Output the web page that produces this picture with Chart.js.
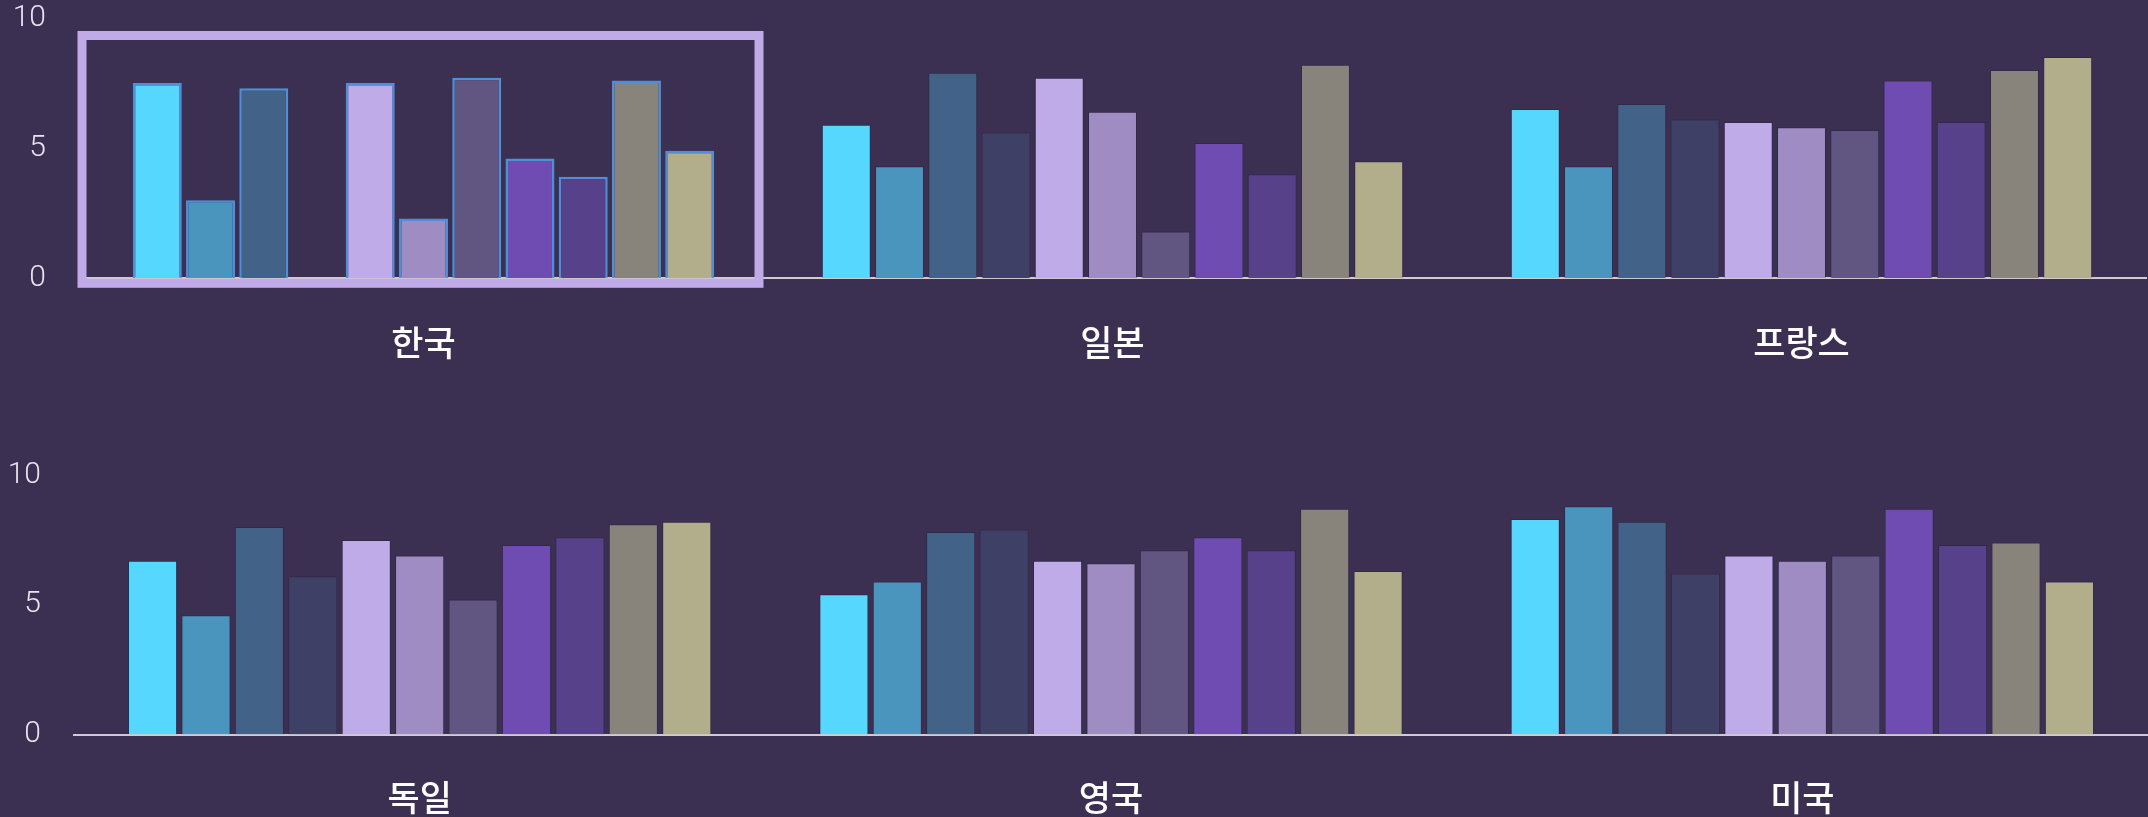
<!DOCTYPE html>
<html lang="ko">
<head>
    <meta charset="UTF-8">
    <title>국가별 지표</title>
    <script src="https://cdn.jsdelivr.net/npm/chart.js"></script>
    <style>
        html, body { margin: 0; padding: 0; background: #3b3052; overflow: hidden; }
        body { width: 2148px; height: 817px; position: relative; }
        .chartBox { position: absolute; left: 0; width: 2148px; }
        #topBox { top: 0; height: 380px; }
        #bottomBox { top: 457px; height: 360px; }
    </style>
</head>
<body>
    <div class="chartBox" id="topBox"><canvas id="topChart"></canvas></div>
    <div class="chartBox" id="bottomBox"><canvas id="bottomChart"></canvas></div>

    <script>
        // categories (first three on the top row, last three on the bottom row)
        const countries = ['한국', '일본', '프랑스', '독일', '영국', '미국'];
        const yTicks = [0, 5, 10];

        // one array per series, values in country order
        const series1 = [7.5, 5.9, 6.5, 6.7, 5.4, 8.3];
        const series2 = [3.0, 4.3, 4.3, 4.6, 5.9, 8.8];
        const series3 = [7.3, 7.9, 6.7, 8.0, 7.8, 8.2];
        const series4 = [null, 5.6, 6.1, 6.1, 7.9, 6.2];
        const series5 = [7.5, 7.7, 6.0, 7.5, 6.7, 6.9];
        const series6 = [2.3, 6.4, 5.8, 6.9, 6.6, 6.7];
        const series7 = [7.7, 1.8, 5.7, 5.2, 7.1, 6.9];
        const series8 = [4.6, 5.2, 7.6, 7.3, 7.6, 8.7];
        const series9 = [3.9, 4.0, 6.0, 7.6, 7.1, 7.3];
        const series10 = [7.6, 8.2, 8.0, 8.1, 8.7, 7.4];
        const series11 = [4.9, 4.5, 8.5, 8.2, 6.3, 5.9];

        const allSeries = [series1, series2, series3, series4, series5, series6,
                           series7, series8, series9, series10, series11];
        const colors = ['#56d7fe', '#4a95bd', '#426387', '#3e4066', '#bfabe8', '#9e8cc3',
                        '#615581', '#6e4cb2', '#57418b', '#89847b', '#b2ae8b'];

        const highlightIndex = 0; // 한국 is selected

        // draws the selection frame round the highlighted category
        const highlightPlugin = {
            id: 'highlightBox',
            afterDraw(chart, args, opts) {
                if (!opts.enabled) return;
                const area = chart.chartArea;
                const catWidth = (area.right - area.left) / chart.data.labels.length;
                const left = area.left + catWidth * highlightIndex + 3;
                const right = left + catWidth - 12;
                const top = area.top + 17.5;
                const bottom = area.bottom + 5;
                const ctx = chart.ctx;
                ctx.save();
                ctx.strokeStyle = '#c0aae8';
                ctx.lineWidth = 9;
                ctx.strokeRect(left, top, right - left, bottom - top);
                ctx.restore();
            }
        };

        function makeChart(canvasId, from, to, opts) {
            const labels = countries.slice(from, to);
            const datasets = allSeries.map(function (values, i) {
                return {
                    label: '계열 ' + (i + 1),
                    data: values.slice(from, to),
                    backgroundColor: colors[i],
                    borderColor: function (ctx) {
                        return (opts.highlight && ctx.dataIndex === highlightIndex) ? '#4f8fd8' : 'rgba(35,28,60,0.35)';
                    },
                    borderWidth: function (ctx) {
                        return (opts.highlight && ctx.dataIndex === highlightIndex) ? 2.5 : 1;
                    },
                    categoryPercentage: 0.85,
                    barPercentage: 0.92
                };
            });

            return new Chart(document.getElementById(canvasId), {
                type: 'bar',
                data: { labels: labels, datasets: datasets },
                plugins: [highlightPlugin],
                options: {
                    responsive: true,
                    maintainAspectRatio: false,
                    animation: false,
                    devicePixelRatio: 1,
                    layout: { padding: { top: 0, right: opts.padRight, bottom: 0, left: 0 } },
                    plugins: {
                        legend: { display: false },
                        tooltip: { enabled: false },
                        highlightBox: { enabled: opts.highlight }
                    },
                    scales: {
                        x: {
                            afterFit: function (scale) {
                                scale.height = opts.axisHeight;
                                scale.paddingLeft = 0;
                                scale.paddingRight = 0;
                            },
                            grid: { display: false, drawTicks: false },
                            border: { display: true, color: '#cfcbd3', width: 2 },
                            ticks: {
                                color: '#ffffff',
                                padding: opts.labelPadding,
                                font: { family: "'Noto Sans CJK KR', 'Noto Sans', sans-serif", size: 35, weight: 500 }
                            }
                        },
                        y: {
                            min: 0,
                            max: 10,
                            afterFit: function (scale) {
                                scale.width = opts.axisWidth;
                                scale.paddingTop = 18;
                                scale.paddingBottom = 0;
                            },
                            afterBuildTicks: function (scale) {
                                scale.ticks = yTicks.map(function (v) { return { value: v }; });
                            },
                            grid: { display: false, drawTicks: false },
                            border: { display: false },
                            ticks: {
                                color: '#e6e4ee',
                                padding: 33,
                                font: { family: 'Roboto', size: 30, weight: 300 }
                            }
                        }
                    }
                }
            });
        }

        makeChart('topChart', 0, 3, { highlight: true, axisWidth: 79, padRight: 2, axisHeight: 101.7, labelPadding: 43 });
        makeChart('bottomChart', 3, 6, { highlight: false, axisWidth: 74, padRight: 0, axisHeight: 82.5, labelPadding: 42 });
    </script>
</body>
</html>
